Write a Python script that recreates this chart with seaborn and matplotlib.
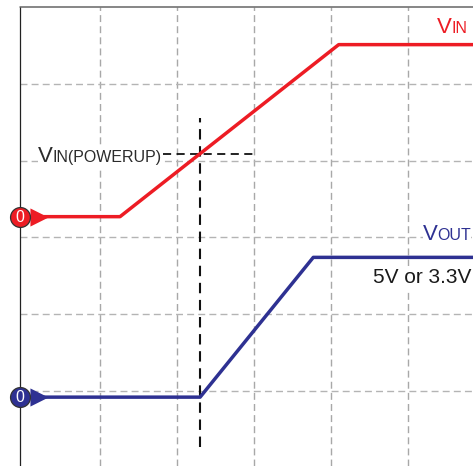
import matplotlib

matplotlib.use("Agg")
import matplotlib.pyplot as plt
import numpy as np
import pandas as pd
import seaborn as sns

# everything is in scope divisions, x=0 / y=0 is the first grid crossing
vin_x = [-0.03, 1.26, 4.10, 5.85]
vin_y = [2.27, 2.27, 4.51, 4.51]
vout_x = [-0.03, 2.30, 3.77, 5.85]
vout_y = [-0.08, -0.08, 1.74, 1.74]
grid_x = [1, 2, 3, 4, 5]
grid_y = [0, 1, 2, 3, 4]
powerup_x = [1.82, 3.0]
powerup_y = [3.08, 3.08]
marker_x = [2.30, 2.30]
marker_y = [-0.73, 3.55]

RED = "#ed1c24"
BLUE = "#2e3192"

sns.set_style("white")
plt.rcParams["font.family"] = ["Liberation Sans", "DejaVu Sans"]

df = pd.concat(
    [
        pd.DataFrame({"t": vin_x, "v": vin_y, "trace": "VIN"}),
        pd.DataFrame({"t": vout_x, "v": vout_y, "trace": "VOUT"}),
    ]
)

fig = plt.figure(figsize=(4.73, 4.66), dpi=100)
ax = fig.add_axes([0, 0, 1, 1])

for x in grid_x:
    ax.plot([x, x], [-0.98, 5.0], color="#a8a8a8", lw=1.0, ls=(0, (5, 3)), zorder=1)
for y in grid_y:
    ax.plot([-0.04, 5.85], [y, y], color="#b4b4b4", lw=1.0, ls=(0, (5, 3)), zorder=1)

# frame: left axis and top edge
ax.plot([-0.045, -0.045], [-0.98, 5.0], color="#222222", lw=0.9, zorder=2)
ax.plot([-0.045, 5.85], [5.0, 5.0], color="#666666", lw=1.1, zorder=2)

ax.plot(powerup_x, powerup_y, color="#111111", lw=1.3, ls=(0, (4.5, 3)), zorder=3)
ax.plot(marker_x, marker_y, color="#111111", lw=1.5, ls=(0, (5, 3.2)), zorder=3)

sns.lineplot(
    data=df,
    x="t",
    y="v",
    hue="trace",
    palette={"VIN": RED, "VOUT": BLUE},
    linewidth=2.5,
    legend=False,
    estimator=None,
    sort=False,
    ax=ax,
    zorder=4,
)
ax.set_xlim(-23 / 77, 450 / 77)
ax.set_ylim(-75 / 76.8, 391 / 76.8)
ax.axis("off")

# channel markers
for y, color in [(vin_y[0], RED), (vout_y[0], BLUE)]:
    ax.scatter([0.21], [y], marker=">", s=170, color=color, linewidths=0, zorder=5)
    ax.scatter([-0.04], [y], marker="o", s=205, color=color, edgecolors="#333333",
               linewidths=0.9, zorder=6)
    ax.text(-0.04, y - 0.01, "0", color="white", fontsize=11.5, ha="center",
            va="center", zorder=7)


def small_caps(x, y, big, small, color, bg=False):
    # big first letter, then the rest smaller, on one baseline
    t = ax.text(x, y, big, color=color, fontsize=16, ha="left", va="baseline", zorder=4.2)
    x1 = t.get_window_extent(fig.canvas.get_renderer()).x1
    x2 = ax.transData.inverted().transform((x1, 0))[0]
    s = ax.text(x2, y, small, color=color, fontsize=11.5, ha="left", va="baseline", zorder=4.2)
    if bg:
        # white backing behind the label so the grid stops there, kept under both parts
        r = fig.canvas.get_renderer()
        box = t.get_window_extent(r).union([t.get_window_extent(r), s.get_window_extent(r)])
        (x0, y0), (x3, y3) = ax.transData.inverted().transform(box.get_points())
        ax.fill_between([x0, x3], y0, y3, color="white", linewidth=0, zorder=2.5)


small_caps(5.37, 4.66, "V", "IN", RED)
small_caps(5.19, 1.96, "V", "OUT", BLUE, bg=True)
small_caps(0.19, 2.98, "V", "IN(POWERUP)", "#2b2b2b", bg=True)

ax.text(4.54, 1.41, "5V or 3.3V", color="#1a1a1a", fontsize=15, ha="left",
        va="baseline", bbox=dict(facecolor="white", edgecolor="none", pad=1.5), zorder=4)

fig.savefig("out.png", dpi=100)
